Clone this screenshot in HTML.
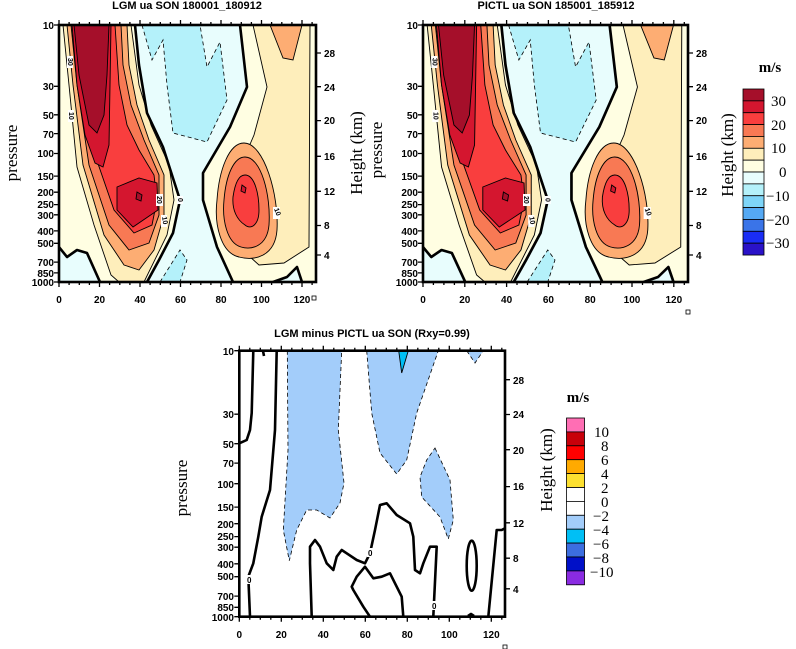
<!DOCTYPE html>
<html><head><meta charset="utf-8"><style>
html,body{margin:0;padding:0;background:#fff;}
svg{display:block;}
.t{font-family:"Liberation Sans",sans-serif;font-weight:bold;font-size:10px;fill:#000;}
.ti{font-family:"Liberation Sans",sans-serif;font-weight:bold;font-size:11px;fill:#000;}
.s{font-family:"Liberation Serif",serif;font-size:17px;fill:#000;}
.c{font-family:"Liberation Serif",serif;font-size:15px;fill:#000;}
.thin{stroke:#000;stroke-width:0.9;}
.thk{fill:none;stroke:#000;stroke-width:2.6;stroke-linejoin:round;}
.dsh{stroke:#000;stroke-width:0.8;stroke-dasharray:4,3;}
</style></head><body>
<svg id="sv" width="796" height="649" viewBox="0 0 796 649" xmlns="http://www.w3.org/2000/svg">
<defs>
<clipPath id="cp"><rect x="0" y="0" width="257" height="257"/></clipPath>
<g id="top">
 <rect x="0" y="0" width="257" height="257" fill="#fffee2"/>
 <path d="M76,0 L80,40 L88,88 L104,122 L121,175 L114,208 L100,235 L88,257 L174,257 L158,222 L144,175 L144,148 L171,102 L188,62 L181,0 Z" fill="#e8fdfd"/>
 <path d="M0,222 L8,232 L18,225 L28,228 L41,257 L0,257Z" fill="#e8fdfd"/>
 <path d="M214,257 L228,252 L238,242 L243,257Z" fill="#e8fdfd"/>
 <path d="M83,0 L93,35 L104,15 L108,60 L114,108 L148,117 L168,75 L161,17 L148,42 L141,0Z" fill="#b4f1fa" class="dsh"/>
 <path d="M101,257 L121,225 L128,235 L121,257Z" fill="#b4f1fa" class="dsh"/>
 <path d="M4,0 L10,60 L18,142 L35,200 L52,250 L60,257 L85,257 L108,210 L115,175 L110,140 L92,100 L80,60 L72,0Z" fill="#feeebb" class="thin"/>
 <path d="M8,0 L14,60 L24,140 L45,210 L65,240 L80,245 L95,225 L105,190 L105,150 L90,115 L78,80 L70,40 L68,0Z" fill="#fdad73" class="thin"/>
 <path d="M12,0 L18,60 L30,140 L50,200 L70,225 L90,218 L100,190 L100,150 L85,115 L72,80 L64,40 L62,0Z" fill="#f87954" class="thin"/>
 <path d="M16,0 L22,60 L36,130 L55,185 L75,208 L93,200 L98,175 L95,150 L80,125 L68,100 L60,60 L56,0Z" fill="#f93e3e" class="thin"/>
 <path d="M13,0 L18,60 L26,110 L36,138 L44,142 L50,120 L51,60 L52,0Z" fill="#d4162f" class="thin"/>
 <path d="M58,162 L80,153 L98,158 L99,185 L74,202 L58,185Z" fill="#d4162f" class="thin"/>
 <path d="M15,0 L20,50 L30,100 L38,108 L45,90 L48,50 L50,0Z" fill="#a50f2a" class="thin"/>
 <path d="M78,167 L83,170 L82,176 L77,174Z" fill="#a50f2a" class="thin"/>
 <path d="M194,0 L208,62 L195,110 L180,145 L172,185 L180,222 L200,240 L225,238 L250,222 L251,0Z" fill="#feeebb" class="thin"/>
 <path d="M211,0 L224,33 L234,35 L243,0Z" fill="#fdad73" class="thin"/>
 <path d="M185,118 C205,118 220,170 218,205 C216,232 195,236 180,232 C162,228 155,200 158,175 C160,145 170,118 185,118Z" fill="#fdad73" class="thin"/>
 <path d="M186,132 C202,132 212,170 210,200 C208,222 192,225 182,222 C168,218 163,195 165,175 C167,150 175,132 186,132Z" fill="#f87954" class="thin"/>
 <path d="M186,150 C196,150 200,170 200,185 C200,200 192,205 186,200 C178,195 173,185 174,172 C176,158 180,150 186,150Z" fill="#f93e3e" class="thin"/>
 <path d="M183,160 L187,163 L186,168 L182,166Z" fill="#d4162f" class="thin"/>
 <path d="M76,0 L80,40 L88,88 L104,122 L121,175 L114,208 L100,235 L88,257" class="thk"/>
 <path d="M181,0 L188,62 L171,102 L144,148 L144,175 L158,222 L174,257" class="thk"/>
 <path d="M0,222 L8,232 L18,225 L28,228 L41,257" class="thk"/>
 <path d="M214,257 L228,252 L238,242 L243,257" class="thk"/>
 <rect x="8" y="31" width="6" height="12" fill="#fff"/><text x="0" y="0" class="t" style="font-size:7px" transform="translate(9,33) rotate(90)">30</text>
 <rect x="9" y="85" width="6" height="12" fill="#fff"/><text x="0" y="0" class="t" style="font-size:7px" transform="translate(10,87) rotate(90)">10</text>
 <rect x="97" y="169" width="7" height="12" fill="#fff"/><text x="0" y="0" class="t" style="font-size:7px" transform="translate(98,171) rotate(90)">20</text>
 <rect x="102" y="190" width="6" height="12" fill="#fff"/><text x="0" y="0" class="t" style="font-size:7px" transform="translate(103,192) rotate(80)">10</text>
 <rect x="118" y="171" width="6" height="8" fill="#fff"/><text x="0" y="0" class="t" style="font-size:7px" transform="translate(119,173) rotate(90)">0</text>
 <rect x="214" y="182" width="7" height="12" fill="#fff"/><text x="0" y="0" class="t" style="font-size:7px" transform="translate(215,184) rotate(70)">10</text>
</g>
</defs>

<g transform="translate(59,25)" clip-path="url(#cp)"><use href="#top"/></g>
<g transform="translate(423,25) scale(1.031,1)" clip-path="url(#cp)"><use href="#top"/></g>

<g>
 <rect x="239.3" y="350.7" width="265.7" height="266" fill="#fff"/>
 <path d="M287.3,350.7 L288,450 L283.3,530 L289.3,560.7 L296.7,530 L306.7,510 L316.7,510 L330,518 L340,503 L344,483 L338.3,430 L341.7,350.7Z" fill="#a3cdfa" class="dsh"/>
 <path d="M366.7,350.7 L371.7,413 L380,453 L396.7,474 L406.7,460 L416.7,413 L438.3,350.7Z" fill="#a3cdfa" class="dsh"/>
 <path d="M398.7,350.7 L401.7,373 L408.3,350.7Z" fill="#00bff5" class="thin"/>
 <path d="M435,448 L450,480 L453.3,520 L448.3,539 L440,517 L421.7,497 L420,477 L426.7,460Z" fill="#a3cdfa" class="dsh"/>
 <path d="M466.7,350.7 L475,363 L483.3,350.7Z" fill="#a3cdfa" class="dsh"/>
 <path d="M239.3,443.3 L246.7,440 L250,430 L251.7,413 L253.3,350.7" class="thk"/>
 <path d="M276.7,350.7 L275,430 L270,490 L261.7,516.7 L258.3,536.7 L253.3,563.3 L248.3,576.7 L250,616.7" class="thk"/>
 <path d="M263,351 L264,356" class="thk"/>
 <path d="M311.7,616.7 L310,563.3 L310,546.7 L315,540 L320,546.7 L326.7,563.3 L333.3,570 L336.7,556.7 L341.7,550 L346.7,553.3 L356.7,560 L365,563.3 L370,553.3 L375,530 L380,505 L386.7,503.3 L396.7,515 L410,523.3 L413.3,536.7 L415,570 L420,573.3 L423.3,563.3 L430,546.7 L436.7,546.7 L433.3,616.7" class="thk"/>
 <path d="M370,616.7 L363.3,606.7 L353.3,590 L351.7,586.7 L356.7,576.7 L365,566.7 L373.3,578.3 L381.7,576.7 L390,573.3 L396.7,586.7 L401.7,596.7 L403.3,616.7" class="thk"/>
 <ellipse cx="471.7" cy="565.7" rx="5" ry="25" class="thk"/>
 <path d="M488.3,616.7 L496.7,530 L501.7,530 L505,528.3" class="thk"/>
 <path d="M468,616 L471,614 L474,616" class="thk"/>
 <rect x="246" y="575" width="6" height="9" fill="#fff"/><text x="247" y="583" class="t" style="font-size:8px">0</text>
 <rect x="367" y="548" width="6" height="9" fill="#fff"/><text x="368" y="556" class="t" style="font-size:8px">0</text>
 <rect x="431" y="601" width="6" height="9" fill="#fff"/><text x="432" y="609" class="t" style="font-size:8px">0</text>
</g>

<g id="axes"></g>

<text x="187" y="9" class="ti" text-anchor="middle">LGM ua SON 180001_180912</text>
<text x="556" y="9" class="ti" text-anchor="middle">PICTL ua SON 185001_185912</text>
<text x="372" y="337" class="ti" text-anchor="middle">LGM minus PICTL ua SON (Rxy=0.99)</text>

<g class="t" text-anchor="end">
<text x="54" y="29">10</text><text x="54" y="90">30</text><text x="54" y="119">50</text><text x="54" y="138">70</text><text x="54" y="157">100</text><text x="54" y="180">150</text><text x="54" y="196">200</text><text x="54" y="208">250</text><text x="54" y="219">300</text><text x="54" y="235">400</text><text x="54" y="247">500</text><text x="54" y="266">700</text><text x="54" y="277">850</text><text x="54" y="286">1000</text>
<text x="418" y="29">10</text><text x="418" y="90">30</text><text x="418" y="119">50</text><text x="418" y="138">70</text><text x="418" y="157">100</text><text x="418" y="180">150</text><text x="418" y="196">200</text><text x="418" y="208">250</text><text x="418" y="219">300</text><text x="418" y="235">400</text><text x="418" y="247">500</text><text x="418" y="266">700</text><text x="418" y="277">850</text><text x="418" y="286">1000</text>
<text x="234" y="355">10</text><text x="234" y="418">30</text><text x="234" y="448">50</text><text x="234" y="467">70</text><text x="234" y="488">100</text><text x="234" y="511">150</text><text x="234" y="528">200</text><text x="234" y="540">250</text><text x="234" y="551">300</text><text x="234" y="568">400</text><text x="234" y="580">500</text><text x="234" y="600">700</text><text x="234" y="611">850</text><text x="234" y="621">1000</text>
</g>
<g class="t">
<text x="324" y="57">28</text><text x="324" y="91">24</text><text x="324" y="124">20</text><text x="324" y="160">16</text><text x="324" y="195">12</text><text x="324" y="229">8</text><text x="324" y="259">4</text>
<text x="696" y="57">28</text><text x="696" y="91">24</text><text x="696" y="124">20</text><text x="696" y="160">16</text><text x="696" y="195">12</text><text x="696" y="229">8</text><text x="696" y="259">4</text>
<text x="513" y="384">28</text><text x="513" y="418">24</text><text x="513" y="454">20</text><text x="513" y="490">16</text><text x="513" y="527">12</text><text x="513" y="562">8</text><text x="513" y="593">4</text>
</g>
<g class="t" text-anchor="middle">
<text x="59" y="303">0</text><text x="99.5" y="303">20</text><text x="140" y="303">40</text><text x="180.5" y="303">60</text><text x="221" y="303">80</text><text x="261.5" y="303">100</text><text x="302" y="303">120</text>
<text x="423" y="303">0</text><text x="464.8" y="303">20</text><text x="506.6" y="303">40</text><text x="548.4" y="303">60</text><text x="590.2" y="303">80</text><text x="632" y="303">100</text><text x="673.8" y="303">120</text>
<text x="239.3" y="638">0</text><text x="281.3" y="638">20</text><text x="323.3" y="638">40</text><text x="365.3" y="638">60</text><text x="407.3" y="638">80</text><text x="449.3" y="638">100</text><text x="491.3" y="638">120</text>
</g>
<rect x="312" y="296" width="4" height="4" fill="none" stroke="#000" stroke-width="0.8"/>
<rect x="686" y="310" width="4" height="4" fill="none" stroke="#000" stroke-width="0.8"/>
<rect x="503" y="645" width="4" height="4" fill="none" stroke="#000" stroke-width="0.8"/>

<text class="s" transform="translate(17,153) rotate(-90)" text-anchor="middle">pressure</text>
<text class="s" transform="translate(362,153) rotate(-90)" text-anchor="middle">Height (km)</text>
<text class="s" transform="translate(382,150) rotate(-90)" text-anchor="middle">pressure</text>
<text class="s" transform="translate(733,155) rotate(-90)" text-anchor="middle">Height (km)</text>
<text class="s" transform="translate(187,488) rotate(-90)" text-anchor="middle">pressure</text>
<text class="s" transform="translate(552,470) rotate(-90)" text-anchor="middle">Height (km)</text>

<text x="770" y="72" class="c" text-anchor="middle" style="font-weight:bold">m/s</text>
<g stroke="#000" stroke-width="0.8">
<rect x="743" y="89" width="21" height="11.86" fill="#a50f2a"/>
<rect x="743" y="100.86" width="21" height="11.86" fill="#d4162f"/>
<rect x="743" y="112.72" width="21" height="11.86" fill="#f93e3e"/>
<rect x="743" y="124.58" width="21" height="11.86" fill="#f87954"/>
<rect x="743" y="136.44" width="21" height="11.86" fill="#fdad73"/>
<rect x="743" y="148.3" width="21" height="11.86" fill="#feeebb"/>
<rect x="743" y="160.16" width="21" height="11.86" fill="#fffee2"/>
<rect x="743" y="172.02" width="21" height="11.86" fill="#e8fdfd"/>
<rect x="743" y="183.88" width="21" height="11.86" fill="#b4f1fa"/>
<rect x="743" y="195.74" width="21" height="11.86" fill="#7ed5f8"/>
<rect x="743" y="207.6" width="21" height="11.86" fill="#55a9f4"/>
<rect x="743" y="219.46" width="21" height="11.86" fill="#3a74e8"/>
<rect x="743" y="231.32" width="21" height="11.86" fill="#1a2df5"/>
<rect x="743" y="243.18" width="21" height="11.86" fill="#2a12c8"/>
</g>
<g class="c">
<text x="771" y="106">30</text><text x="771" y="130">20</text><text x="771" y="153">10</text><text x="779" y="177">0</text><text x="766" y="201">−10</text><text x="766" y="225">−20</text><text x="766" y="248">−30</text>
</g>

<text x="578" y="402" class="c" text-anchor="middle" style="font-weight:bold">m/s</text>
<g stroke="#000" stroke-width="0.8">
<rect x="566.5" y="418" width="18" height="13.9" fill="#ff6eb4"/>
<rect x="566.5" y="431.9" width="18" height="13.9" fill="#c8000a"/>
<rect x="566.5" y="445.8" width="18" height="13.9" fill="#ff0000"/>
<rect x="566.5" y="459.7" width="18" height="13.9" fill="#ffaa00"/>
<rect x="566.5" y="473.6" width="18" height="13.9" fill="#fde030"/>
<rect x="566.5" y="487.5" width="18" height="13.9" fill="#ffffff"/>
<rect x="566.5" y="501.4" width="18" height="13.9" fill="#ffffff"/>
<rect x="566.5" y="515.3" width="18" height="13.9" fill="#a3cdfa"/>
<rect x="566.5" y="529.2" width="18" height="13.9" fill="#00bff5"/>
<rect x="566.5" y="543.1" width="18" height="13.9" fill="#3c6ee0"/>
<rect x="566.5" y="557" width="18" height="13.9" fill="#0010c8"/>
<rect x="566.5" y="570.9" width="18" height="13.9" fill="#8a2be2"/>
</g>
<g class="c">
<text x="594" y="437">10</text><text x="601" y="451">8</text><text x="601" y="465">6</text><text x="601" y="479">4</text><text x="601" y="493">2</text><text x="601" y="507">0</text><text x="593" y="521">−2</text><text x="593" y="535">−4</text><text x="593" y="549">−6</text><text x="593" y="563">−8</text><text x="590" y="577">−10</text>
</g>
</svg>
<script>
(function(){
var g=document.getElementById('axes'),NS='http://www.w3.org/2000/svg',d='';
function L(x1,y1,x2,y2){d+='M'+x1.toFixed(1)+','+y1.toFixed(1)+'L'+x2.toFixed(1)+','+y2.toFixed(1);}
var pf=[10,30,50,70,100,150,200,250,300,400,500,700,850,1000].map(function(p){return Math.log10(p/10)/2;});
var hf=[.109,.240,.372,.511,.647,.780,.895];
function ax(x0,y0,w,h,s){
 for(var lat=0;lat<=125;lat+=5){var x=x0+lat*s,len=(lat%20==0)?5:3;if(x>x0+w)break;L(x,y0+h,x,y0+h+len);L(x,y0,x,y0-len);}
 pf.forEach(function(f){L(x0,y0+h*f,x0-5,y0+h*f);});
 hf.forEach(function(f){L(x0+w,y0+h*f,x0+w+5,y0+h*f);});
 var r=document.createElementNS(NS,'rect');r.setAttribute('x',x0);r.setAttribute('y',y0);r.setAttribute('width',w);r.setAttribute('height',h);r.setAttribute('fill','none');r.setAttribute('stroke','#000');r.setAttribute('stroke-width','2.6');g.appendChild(r);
}
ax(59,25,257,257,2.025);ax(423,25,265,257,2.09);ax(239.3,350.7,265.7,266,2.1);
var p=document.createElementNS(NS,'path');p.setAttribute('d',d);p.setAttribute('stroke','#000');p.setAttribute('stroke-width','1.3');p.setAttribute('fill','none');g.appendChild(p);
})();
</script>
</body></html>
